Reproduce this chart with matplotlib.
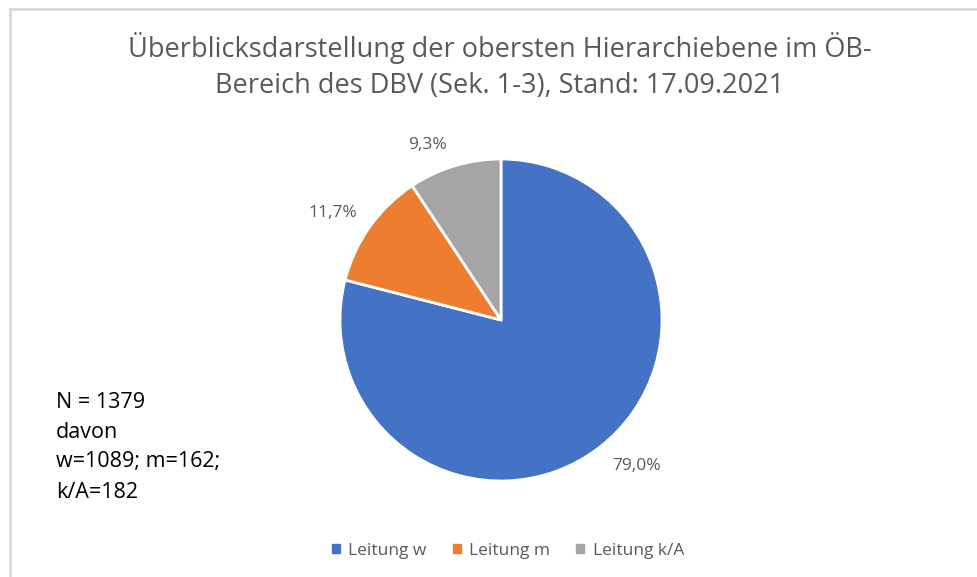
import matplotlib
matplotlib.use("Agg")
import matplotlib.pyplot as plt
import numpy as np
from matplotlib.lines import Line2D

categories = ["Leitung w", "Leitung m", "Leitung k/A"]
shares = [79.0, 11.7, 9.3]
pct_labels = ["79,0%", "11,7%", "9,3%"]
colors = ["#4472C4", "#ED7D31", "#A5A5A5"]
title = "Überblicksdarstellung der obersten Hierarchiebene im ÖB-\nBereich des DBV (Sek. 1-3), Stand: 17.09.2021"
note_lines = ["N = 1379", "davon", "w=1089; m=162;", "k/A=182"]
label_dist = [1.24, 1.24, 1.18]
label_ang_shift = [5, 3, 6]

W, H = 978, 577
fig = plt.figure(figsize=(W/100, H/100), dpi=100)
plt.rcParams['font.family'] = ['Open Sans', 'DejaVu Sans']

# border
fig.add_artist(Line2D([10/W, 1], [1-9/H, 1-9/H], color="#D9D9D9", lw=2, transform=fig.transFigure))
fig.add_artist(Line2D([10/W, 10/W], [0, 1-9/H], color="#D9D9D9", lw=2, transform=fig.transFigure))

cx, cy, r = 501, 320, 161
ax = fig.add_axes([(cx-r)/W, (H-cy-r)/H, 2*r/W, 2*r/H])
wedges, _ = ax.pie(shares, colors=colors, startangle=90, counterclock=False,
                   radius=1, wedgeprops=dict(edgecolor="white", linewidth=2))
ax.set_xlim(-1, 1); ax.set_ylim(-1, 1)
ax.set_aspect("equal")
ax.axis("off")

for w, lab, d, s in zip(wedges, pct_labels, label_dist, label_ang_shift):
    ang = np.deg2rad((w.theta1 + w.theta2) / 2 + s)
    ax.text(d*np.cos(ang), d*np.sin(ang), lab, ha="center", va="center",
            fontsize=12.5, color="#595959", clip_on=False)

fig.text(500/W, 1-66/H, title, ha="center", va="center", fontsize=19.5,
         color="#595959", linespacing=1.35)

for i, line in enumerate(note_lines):
    fig.text(56/W, 1-(402 + i*30)/H, line, ha="left", va="center", fontsize=15.5, color="#000000")

handles = [plt.Rectangle((0, 0), 1, 1, color=c) for c in colors]
fig.legend(handles, categories, loc="center", bbox_to_anchor=(508/W, 1-551/H), ncol=3,
           frameon=False, fontsize=12.5, handlelength=0.45, handleheight=0.45,
           handletextpad=0.5, columnspacing=1.5, labelcolor="#595959")

fig.savefig("out.png", dpi=100, facecolor="white")
